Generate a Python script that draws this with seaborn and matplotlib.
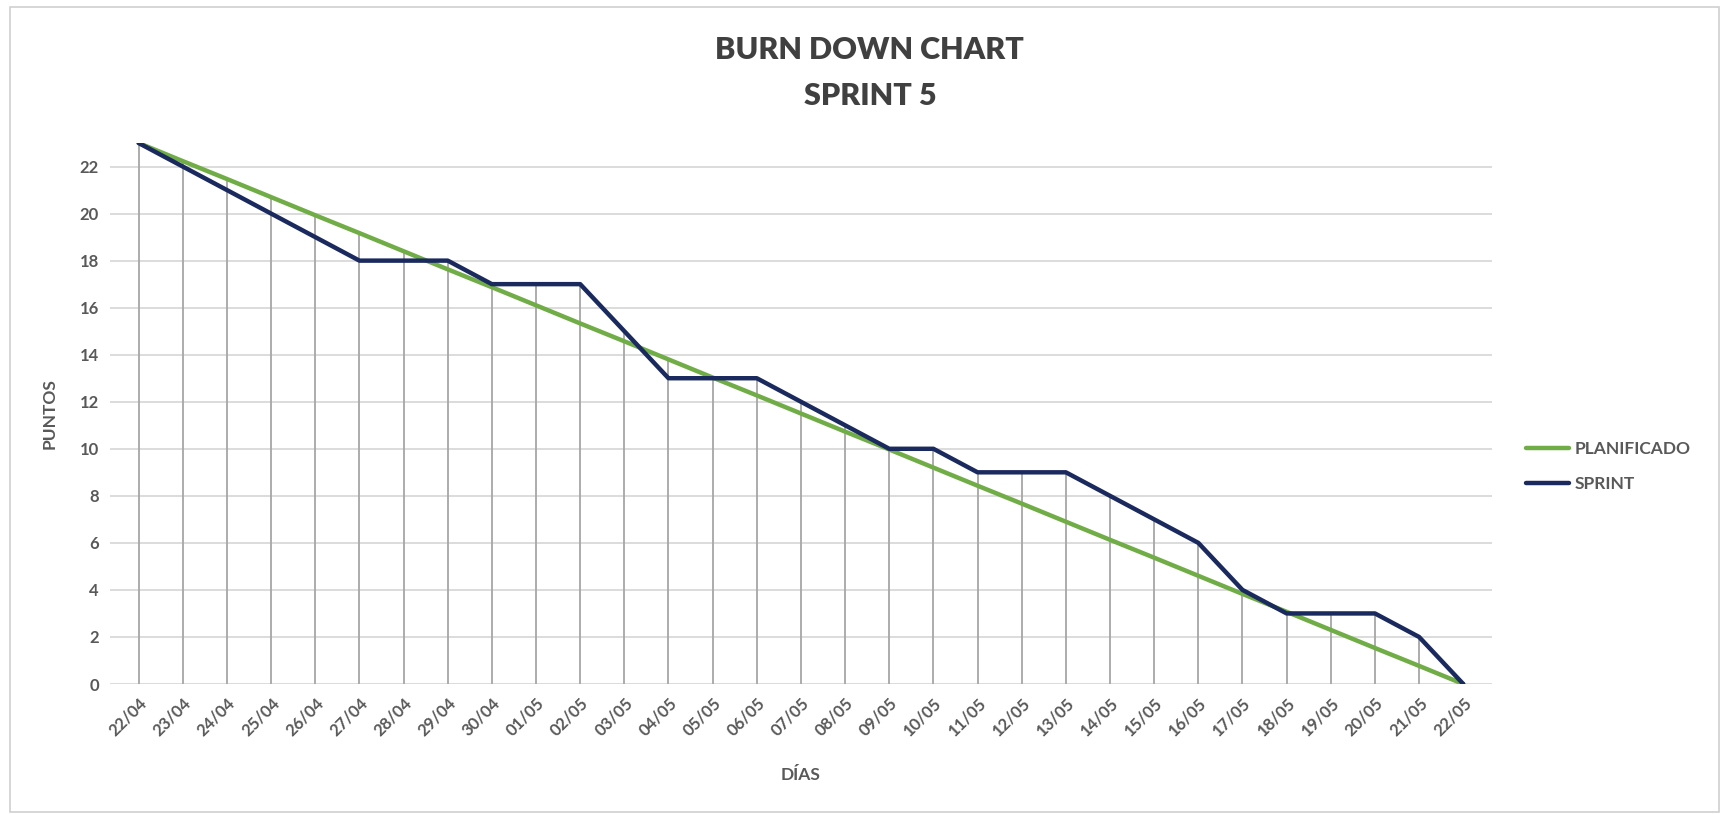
import matplotlib
matplotlib.use("Agg")
import matplotlib.pyplot as plt
import seaborn as sns
import pandas as pd
from matplotlib.patches import Rectangle
from matplotlib.lines import Line2D

# Sprint days
dias = ["22/04", "23/04", "24/04", "25/04", "26/04", "27/04", "28/04", "29/04",
        "30/04", "01/05", "02/05", "03/05", "04/05", "05/05", "06/05", "07/05",
        "08/05", "09/05", "10/05", "11/05", "12/05", "13/05", "14/05", "15/05",
        "16/05", "17/05", "18/05", "19/05", "20/05", "21/05", "22/05"]

# Ideal (planned) remaining points
planificado = [23.00, 22.23, 21.47, 20.70, 19.93, 19.17, 18.40, 17.63, 16.87,
               16.10, 15.33, 14.57, 13.80, 13.03, 12.27, 11.50, 10.73, 9.97,
               9.20, 8.43, 7.67, 6.90, 6.13, 5.37, 4.60, 3.83, 3.07, 2.30,
               1.53, 0.77, 0.00]

# Actual remaining points
sprint = [23, 22, 21, 20, 19, 18, 18, 18, 17, 17, 17, 15, 13, 13, 13, 12,
          11, 10, 10, 9, 9, 9, 8, 7, 6, 4, 3, 3, 3, 2, 0]

y_ticks = [0, 2, 4, 6, 8, 10, 12, 14, 16, 18, 20, 22]

GREEN = "#70AD47"
NAVY = "#1B2A5E"
TEXT = "#595959"
FONT = ["Lato", "DejaVu Sans"]

sns.set_theme(style="white")
plt.rcParams["font.family"] = FONT

df = pd.DataFrame({"x": range(len(dias)), "PLANIFICADO": planificado, "SPRINT": sprint})
long = df.melt(id_vars="x", var_name="serie", value_name="puntos")

fig = plt.figure(figsize=(17.26, 8.14), dpi=100)
ax = fig.add_axes([0.0637, 0.1597, 0.8007, 0.6646])

# horizontal gridlines
for v in y_ticks:
    ax.axhline(v, color="#D9D9D9", lw=1.3, zorder=0)

# drop lines from the axis up to the highest series at each day
tops = [max(p, s) for p, s in zip(planificado, sprint)]
ax.vlines(df["x"], 0, tops, color="#A6A6A6", lw=1.3, zorder=1)

sns.lineplot(data=long, x="x", y="puntos", hue="serie",
             palette={"PLANIFICADO": GREEN, "SPRINT": NAVY},
             linewidth=3.2, ax=ax, legend=False, zorder=3)

ax.set_xlim(-0.65, len(dias) - 1 + 0.65)
ax.set_ylim(0, 23)
ax.set_yticks(y_ticks)
ax.set_yticklabels([str(v) for v in y_ticks], fontsize=12, fontweight="bold", color=TEXT)
ax.set_xticks(range(len(dias)))
ax.set_xticklabels(dias, rotation=45, ha="right", rotation_mode="anchor",
                   fontsize=12, fontweight="bold", color=TEXT)
ax.tick_params(axis="both", length=0, pad=8)
for s in ax.spines.values():
    s.set_visible(False)

ax.set_xlabel("DÍAS", fontsize=12.5, fontweight="bold", color=TEXT, labelpad=20)
ax.set_ylabel("PUNTOS", fontsize=12.5, fontweight="bold", color=TEXT, labelpad=16)

fig.text(0.504, 0.938, "BURN DOWN CHART", ha="center", va="center",
         fontsize=22, fontweight="heavy", color="#404040")
fig.text(0.504, 0.882, "SPRINT 5", ha="center", va="center",
         fontsize=22, fontweight="heavy", color="#404040")

handles = [Line2D([0], [0], color=GREEN, lw=3.2), Line2D([0], [0], color=NAVY, lw=3.2)]
fig.legend(handles, ["PLANIFICADO", "SPRINT"], loc="center left",
           bbox_to_anchor=(0.875, 0.427), frameon=False, handlelength=2.5,
           handletextpad=0.3, labelspacing=1.1,
           prop={"family": FONT, "weight": "bold", "size": 12.5}, labelcolor=TEXT)

# light frame around the chart area
fig.patches.append(Rectangle((0.006, 0.003), 0.99, 0.988, transform=fig.transFigure,
                             fill=False, edgecolor="#D0D0D0", lw=1.2))

fig.savefig("out.png", dpi=100, facecolor="white")
